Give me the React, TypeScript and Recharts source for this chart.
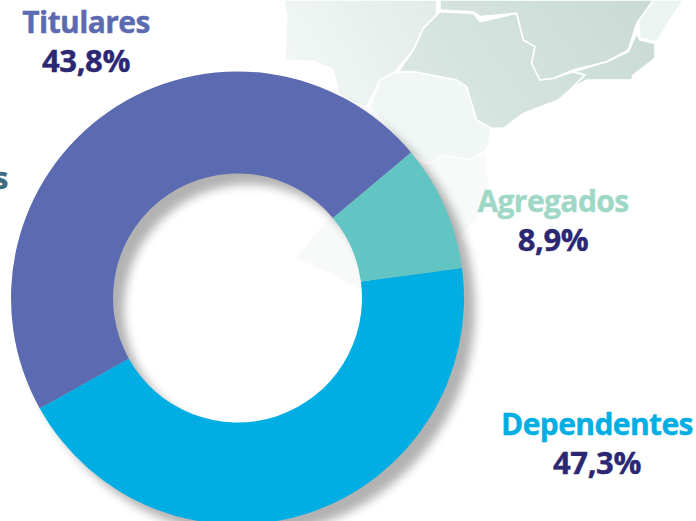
import { PieChart, Pie, Cell } from 'recharts';

const CATEGORIES = ['Titulares', 'Dependentes', 'Agregados'];
// printed on the labels
const PRINTED = ['43,8%', '47,3%', '8,9%'];
// shares as the arcs are actually drawn in the picture (they differ from the printed text)
const DRAWN_SHARES = [47, 44, 9];
const COLORS = ['#5b6ab1', '#00aee3', '#62c5c4'];
const NAME_COLORS = ['#5b6ab1', '#00aee3', '#9fd8c6'];
const VALUE_COLOR = '#2b2772';

const LABEL_POS = [
  { x: 86, y: 33, vy: 72 },
  { x: 597, y: 435, vy: 474 },
  { x: 553, y: 212, vy: 251 },
];

const chartData = CATEGORIES.map((name, i) => ({ name, value: DRAWN_SHARES[i] }));
const shadowData = [{ name: 'sombra', value: 100 }];

// background map, traced in zoomed reference units (x = 270 + zx / 3, y = zy / 3)
const toPoints = (pts: number[][]) => pts.map(([x, y]) => `${270 + x / 3},${y / 3}`).join(' ');

const LIGHT_STATES = [
  [[40, 0], [50, 45], [45, 180], [135, 185], [190, 210], [205, 280], [255, 310], [290, 320], [330, 240], [375, 215], [430, 150], [460, 85], [500, 45], [500, 0]],
  [[300, 320], [330, 240], [375, 218], [430, 215], [560, 240], [590, 260], [620, 360], [665, 385], [650, 450], [600, 480], [520, 465], [480, 490], [420, 460]],
  [[1150, 0], [1240, 0], [1200, 60], [1160, 125], [1110, 115], [1105, 60]],
];
const DARK_STATES = [
  [[510, 35], [610, 40], [630, 65], [740, 40], [760, 120], [795, 140], [785, 190], [810, 240], [850, 235], [910, 215], [945, 225], [905, 265], [865, 300], [760, 340], [700, 385], [665, 385], [620, 360], [590, 260], [560, 240], [430, 215], [385, 215], [430, 150], [460, 85]],
  [[510, 0], [1150, 0], [1100, 70], [1075, 150], [1010, 185], [910, 210], [850, 235], [810, 240], [785, 190], [795, 140], [760, 120], [740, 40], [630, 50], [610, 35], [510, 30]],
  [[1100, 100], [1110, 120], [1155, 130], [1155, 175], [1090, 225], [1085, 240], [950, 240], [905, 265], [945, 225], [910, 215], [1010, 185], [1075, 155]],
];
const PALE_STATES = [
  [[480, 490], [520, 465], [600, 480], [650, 460], [655, 560], [620, 660], [575, 700], [540, 760], [300, 700], [420, 500]],
  [[75, 775], [190, 640], [300, 700], [540, 760], [400, 900], [270, 870], [180, 820]],
];

const renderLabel = (props: { index: number }) => {
  const pos = LABEL_POS[props.index];
  return (
    <g key={CATEGORIES[props.index]} fontFamily="'Open Sans'" fontWeight={700} textAnchor="middle">
      <text x={pos.x} y={pos.y} fontSize={30} letterSpacing={-0.6} stroke={NAME_COLORS[props.index]} strokeWidth={0.4} fill={NAME_COLORS[props.index]}>
        {CATEGORIES[props.index]}
      </text>
      <text x={pos.x} y={pos.vy} fontSize={31} letterSpacing={-0.4} stroke={VALUE_COLOR} strokeWidth={0.4} fill={VALUE_COLOR}>
        {PRINTED[props.index]}
      </text>
    </g>
  );
};

const CX = 237.5;
const CY = 298;
const INNER = 124.5;
const OUTER = 226.5;

export default function App() {
  return (
    <div style={{ position: 'relative', width: 696, height: 521, overflow: 'hidden', background: '#fff' }}>
      <style>{'body{margin:0}'}</style>
      <svg width={696} height={521} style={{ position: 'absolute', left: 0, top: 0 }}>
        <defs>
          <linearGradient id="mapLight" gradientUnits="userSpaceOnUse" x1={290} y1={90} x2={440} y2={0}>
            <stop offset="0%" stopColor="#f3f8f6" />
            <stop offset="100%" stopColor="#e1ebe7" />
          </linearGradient>
          <linearGradient id="mapDark" gradientUnits="userSpaceOnUse" x1={460} y1={130} x2={640} y2={0}>
            <stop offset="0%" stopColor="#d9e6e1" />
            <stop offset="100%" stopColor="#c9dbd4" />
          </linearGradient>
        </defs>
        {LIGHT_STATES.map((s, i) => (
          <polygon key={i} points={toPoints(s)} fill={i === 1 ? '#f1f7f5' : i === 2 ? '#ecf4f1' : 'url(#mapLight)'} stroke="#fff" strokeWidth={1.6} />
        ))}
        {DARK_STATES.map((s, i) => (
          <polygon key={i} points={toPoints(s)} fill="url(#mapDark)" stroke="#fff" strokeWidth={1.6} />
        ))}
        {PALE_STATES.map((s, i) => (
          <polygon key={i} points={toPoints(s)} fill="#f7faf9" stroke="#fff" strokeWidth={1} />
        ))}
        {/* end of a label cut off by the image edge */}
        <text x={-7} y={189} fontFamily="'Open Sans'" fontWeight={700} fontSize={31} stroke="#3f6b80" strokeWidth={0.4} fill="#3f6b80">
          s
        </text>
      </svg>
      <div style={{ position: 'absolute', left: 0, top: 0 }}>
        <PieChart width={696} height={521} margin={{ top: 0, right: 0, bottom: 0, left: 0 }}>
          <Pie
            data={shadowData}
            dataKey="value"
            cx={CX + 11}
            cy={CY + 11}
            innerRadius={INNER}
            outerRadius={OUTER}
            stroke="none"
            isAnimationActive={false}
          >
            <Cell fill="#000" fillOpacity={0.3} style={{ filter: 'blur(5px)' }} />
          </Pie>
          <Pie
            data={chartData}
            dataKey="value"
            cx={CX}
            cy={CY}
            innerRadius={INNER}
            outerRadius={OUTER}
            startAngle={40}
            endAngle={400}
            stroke="none"
            label={renderLabel}
            labelLine={false}
            isAnimationActive={false}
          >
            {chartData.map((d, i) => (
              <Cell key={d.name} fill={COLORS[i]} />
            ))}
          </Pie>
        </PieChart>
      </div>
    </div>
  );
}
